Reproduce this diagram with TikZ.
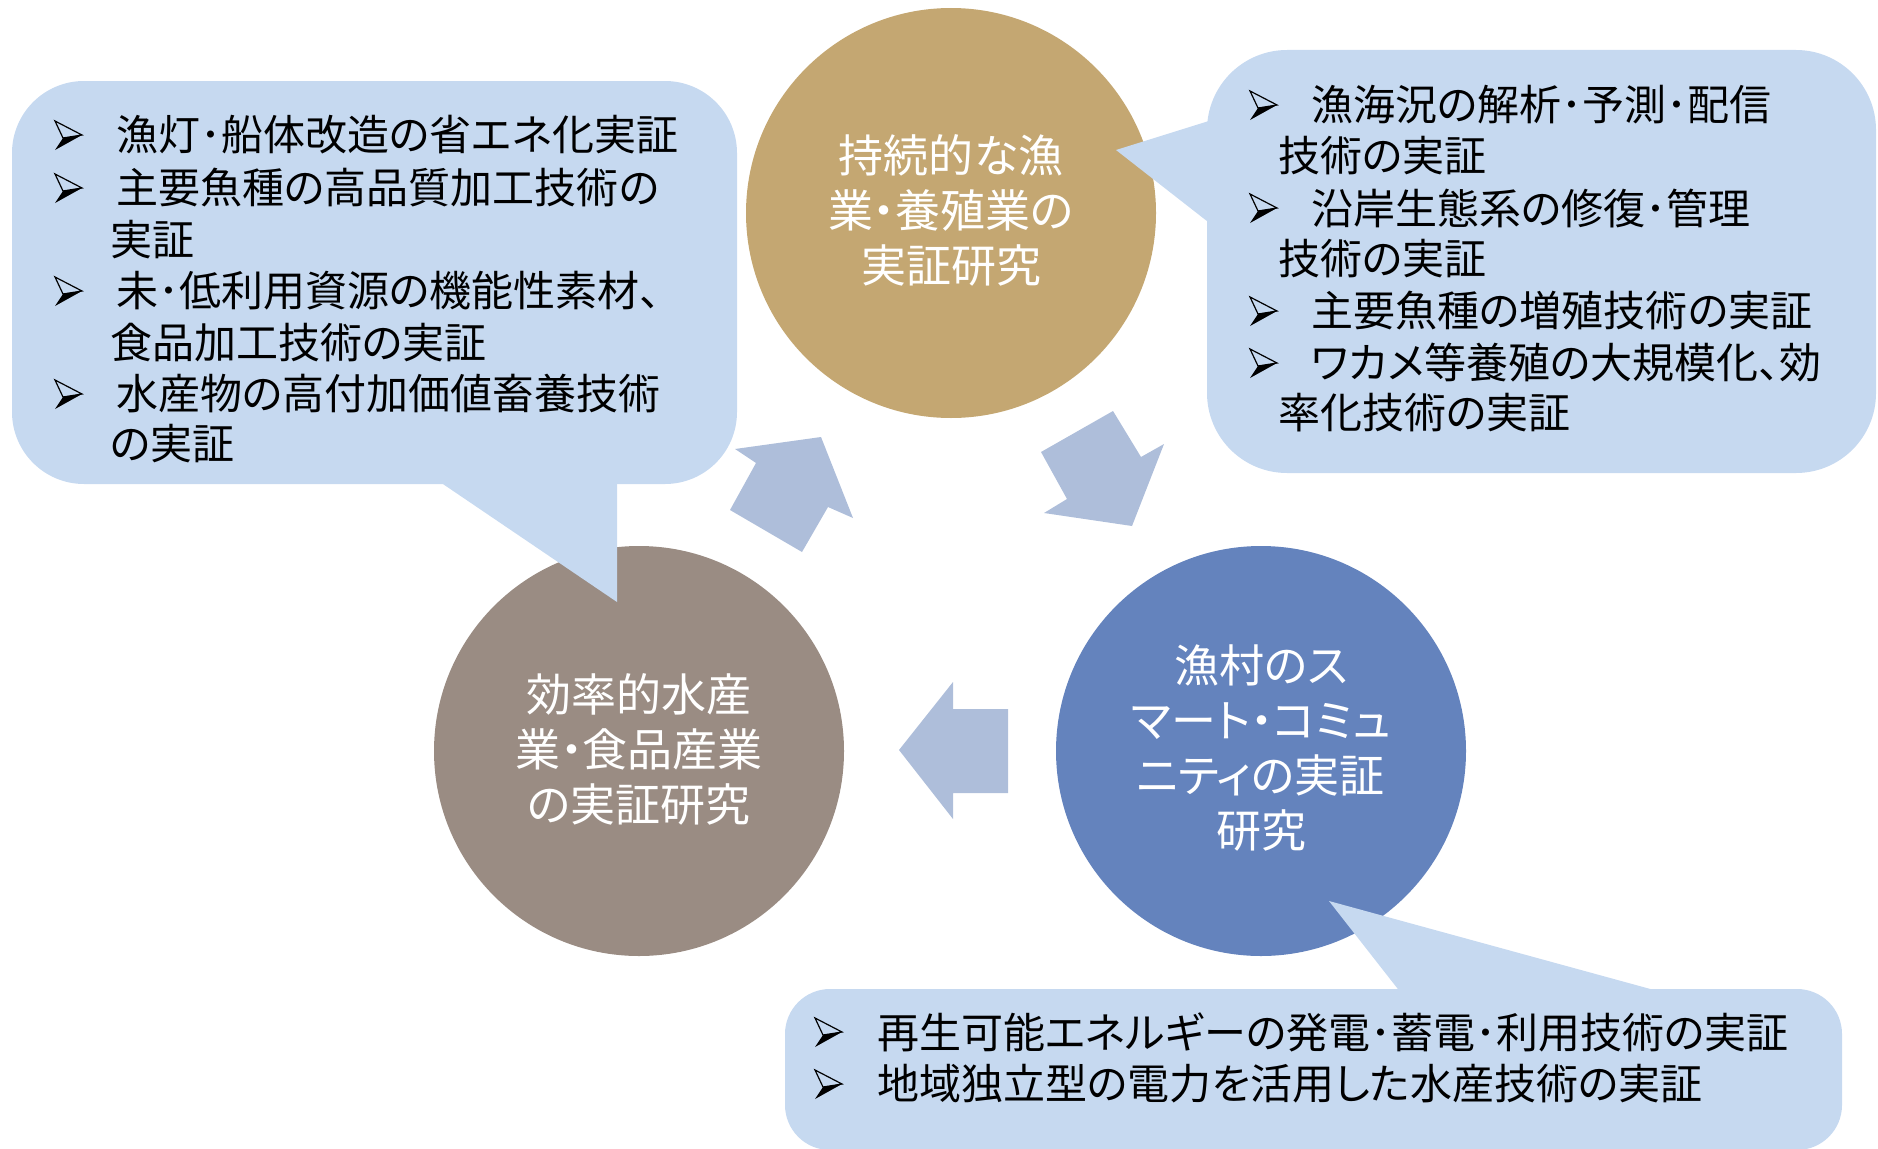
\documentclass[tikz,border=0pt]{standalone}
\usepackage{fontspec}
\newfontfamily\jp[RawFeature=+palt]{Noto Sans CJK JP}
\definecolor{bub}{RGB}{198,217,240}
\definecolor{arr}{RGB}{174,190,218}
\definecolor{burlap}{RGB}{196,167,114}
\definecolor{taupe}{RGB}{154,140,131}
\definecolor{denim}{RGB}{100,131,189}
\begin{document}
\begin{tikzpicture}[x=1pt,y=-1pt,
  btxt/.style={anchor=west, inner sep=0pt, font=\jp\fontsize{42}{50}\selectfont},
  ctxt/.style={align=center, inner sep=0pt, text=white, font=\jp\fontsize{45}{55}\selectfont},
  disc/.style={circle, minimum size=410pt, inner sep=0pt},
  blockarrow/.style={fill=arr},
  bubble/.style={fill=bub},
  arrowbullet/.pic={
    \fill[bub, draw=black, line width=1.2pt, line join=miter] (0,-14) -- (27,0) -- (8,3) -- cycle;
    \fill[black] (8,3) -- (27,0) -- (0,15) -- cycle;
  }]
\useasboundingbox (0,0) rectangle (1878,1148);
\clip (0,0) rectangle (1878,1148);
% circles
\node[disc, fill=burlap] (c1) at (951,213) {};
\node[disc, fill=taupe] (c2) at (639,751) {};
\node[disc, fill=denim] (c3) at (1261,751) {};
\node[ctxt] (t1) at (951,210) {持続的な漁\\業・養殖業の\\実証研究};
\node[ctxt] (t2) at (639,749) {効率的水産\\業・食品産業\\の実証研究};
\node[ctxt] (t3) at (1261,748) {漁村のス\\マート・コミュ\\ニティの実証\\研究};
% block arrows
\fill[blockarrow] (735,449) -- (821,437) -- (853,518) -- (828,507) -- (802,552) -- (730,510) -- (756,463) -- cycle;
\fill[blockarrow] (1041,452) -- (1113,411) -- (1141,457) -- (1164,444) -- (1132,526) -- (1044,513) -- (1067,499) -- cycle;
\fill[blockarrow] (899,750) -- (953,682) -- (953,709) -- (1008,709) -- (1008,793) -- (953,793) -- (953,819) -- cycle;
% left bubble
\fill[bubble, rounded corners=72pt] (12,81) rectangle (737,484);
\fill[bubble] (437,480) -- (617,480) -- (617,602) -- cycle;
% right bubble
\fill[bubble, rounded corners=80pt] (1207,50) rectangle (1876,473);
\fill[bubble] (1212,120) -- (1116,150) -- (1212,225) -- cycle;
% bottom bubble
\fill[bubble, rounded corners=45pt] (785,989) rectangle (1842,1150);
\fill[bubble] (1401,993) -- (1329,901) -- (1665,993) -- cycle;
% left bubble text
\pic at (55,135) {arrowbullet};
\node[btxt] (l1) at (116,135) {漁灯･船体改造の省エネ化実証};
\pic at (55,188) {arrowbullet};
\node[btxt] (l2) at (116,188) {主要魚種の高品質加工技術の};
\node[btxt] (l3) at (110,240) {実証};
\pic at (55,291) {arrowbullet};
\node[btxt] (l4) at (116,291) {未･低利用資源の機能性素材、};
\node[btxt] (l5) at (110,343) {食品加工技術の実証};
\pic at (55,394) {arrowbullet};
\node[btxt] (l6) at (116,394) {水産物の高付加価値畜養技術};
\node[btxt] (l7) at (110,444) {の実証};
% right bubble text
\pic at (1250,105) {arrowbullet};
\node[btxt] (r1) at (1311,105) {漁海況の解析･予測･配信};
\node[btxt] (r2) at (1278,156) {技術の実証};
\pic at (1250,208) {arrowbullet};
\node[btxt] (r3) at (1311,208) {沿岸生態系の修復･管理};
\node[btxt] (r4) at (1278,259) {技術の実証};
\pic at (1250,311) {arrowbullet};
\node[btxt] (r5) at (1311,311) {主要魚種の増殖技術の実証};
\pic at (1250,363) {arrowbullet};
\node[btxt] (r6) at (1311,363) {ワカメ等養殖の大規模化、効};
\node[btxt] (r7) at (1278,413) {率化技術の実証};
% bottom bubble text
\pic at (815,1032) {arrowbullet};
\node[btxt] (b1) at (877,1032) {再生可能エネルギーの発電･蓄電･利用技術の実証};
\pic at (815,1084) {arrowbullet};
\node[btxt] (b2) at (877,1084) {地域独立型の電力を活用した水産技術の実証};
\end{tikzpicture}
\end{document}
